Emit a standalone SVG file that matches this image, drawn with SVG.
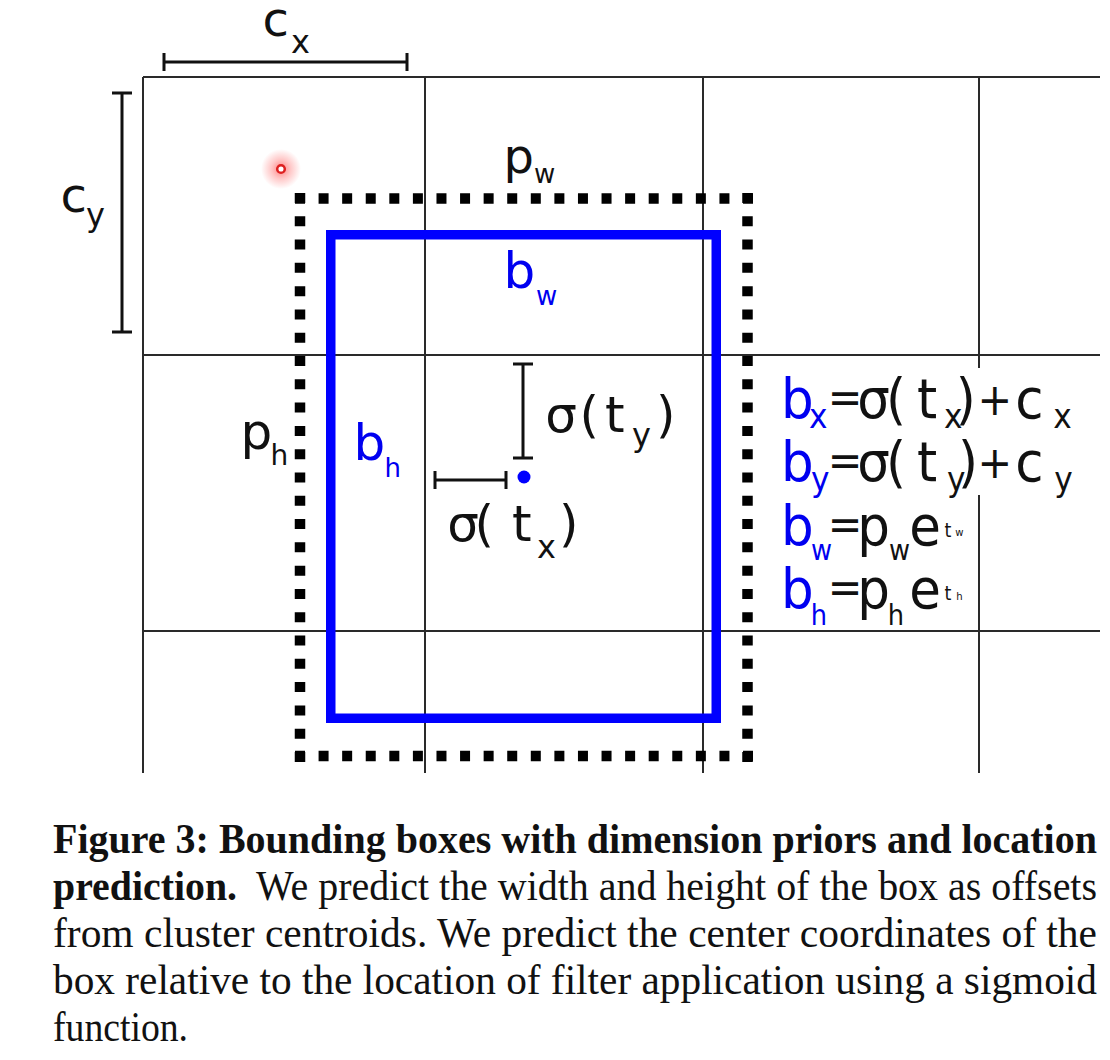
<svg xmlns="http://www.w3.org/2000/svg" width="1110" height="1060" viewBox="0 0 1110 1060">
<style>
.grid{stroke:#2a2a2a;stroke-width:2;fill:none}
.brk{stroke:#111;stroke-width:3;fill:none}
.dot{stroke:#000;stroke-width:10.5;fill:none}
.lbl{font-family:"DejaVu Sans","Noto Sans",sans-serif;fill:#111}
.blue{fill:#0000f0}
.cap{font-family:"Liberation Serif","Times New Roman",serif;fill:#111;font-size:42px}
.b{font-weight:bold}
</style>
<defs>
<radialGradient id="glow"><stop offset="0" stop-color="#ff2a2a" stop-opacity="0.6"/><stop offset="0.5" stop-color="#ff4040" stop-opacity="0.28"/><stop offset="1" stop-color="#ff4040" stop-opacity="0"/></radialGradient>
</defs>
<rect width="1110" height="1060" fill="#fff"/>
<g id="grid">
<line class="grid" x1="143" y1="77" x2="1100" y2="77"/>
<line class="grid" x1="143" y1="355" x2="1100" y2="355"/>
<line class="grid" x1="143" y1="631" x2="1100" y2="631"/>
<line class="grid" x1="143" y1="77" x2="143" y2="773"/>
<line class="grid" x1="425" y1="77" x2="425" y2="773"/>
<line class="grid" x1="703" y1="77" x2="703" y2="773"/>
<line class="grid" x1="979" y1="77" x2="979" y2="773"/>
</g>
<g id="cx">
<path class="brk" d="M164 62H407M164 53V71M407 53V71"/>
<text class="lbl" font-size="48" x="262.4" y="36">c<tspan font-size="32" x="291" y="53">x</tspan></text>
</g>
<g id="cy">
<path class="brk" d="M122 93V332M112 93H132M112 332H132"/>
<text class="lbl" font-size="48" x="60.4" y="212">c<tspan font-size="32" x="86" y="226">y</tspan></text>
</g>
<g id="red-dot">
<circle cx="281" cy="169" r="20" fill="url(#glow)"/>
<circle cx="281" cy="169" r="3.8" fill="#fff" stroke="#dd2020" stroke-width="2.5"/>
</g>
<g id="prior-box">
<line class="dot" x1="295" y1="198.5" x2="753" y2="198.5" stroke-dasharray="10 13.58"/>
<line class="dot" x1="295" y1="756" x2="753" y2="756" stroke-dasharray="10 13.58"/>
<line class="dot" x1="300" y1="193" x2="300" y2="762" stroke-dasharray="10 13.29"/>
<line class="dot" x1="747.5" y1="193" x2="747.5" y2="762" stroke-dasharray="10 13.29"/>
<text class="lbl" font-size="48" x="503.6" y="173">p<tspan font-size="26" x="534" y="183">w</tspan></text>
<text class="lbl" font-size="50" x="240.5" y="449">p<tspan font-size="28" x="270.5" y="465">h</tspan></text>
</g>
<g id="pred-box">
<rect x="330.75" y="234.75" width="385.5" height="483.5" fill="none" stroke="#0000ff" stroke-width="9.5"/>
<text class="lbl blue" font-size="50" x="503.5" y="288">b<tspan font-size="26" x="536" y="305">w</tspan></text>
<text class="lbl blue" font-size="50" x="353.5" y="460">b<tspan font-size="26" x="384.6" y="477">h</tspan></text>
</g>
<g id="center">
<path class="brk" d="M523 364V458M513 364H533M513 458H533"/>
<path class="brk" d="M435 480H506M435 471V489M506 471V489"/>
<circle cx="524" cy="477" r="6.5" fill="#0000ff"/>
<text class="lbl" font-size="50" y="432"><tspan x="545.2">σ</tspan><tspan x="579.6">(</tspan><tspan x="605">t</tspan><tspan font-size="32" x="632" y="445.5">y</tspan><tspan x="656" y="432">)</tspan></text>
<text class="lbl" font-size="50" y="541"><tspan x="447.2">σ</tspan><tspan x="474.6">(</tspan><tspan x="512">t</tspan><tspan font-size="32" x="537" y="558">x</tspan><tspan x="559" y="541">)</tspan></text>
</g>
<g id="equations">
<rect x="778" y="368" width="305" height="127" fill="#fff"/>
<text class="lbl" font-size="56" transform="translate(781,418) scale(0.92,1)"><tspan class="blue" x="0" y="0">b</tspan><tspan class="blue" font-size="34" x="30.4" y="10">x</tspan><tspan font-size="45" x="50.7" y="-5">=</tspan><tspan x="82.8" y="0">σ</tspan><tspan x="114">(</tspan><tspan x="147.8">t</tspan><tspan font-size="34" x="177.2" y="10">x</tspan><tspan x="190" y="0">)</tspan><tspan font-size="45" x="213.7" y="-3">+</tspan><tspan x="254.6" y="0">c</tspan><tspan font-size="34" x="296" y="10">x</tspan></text>
<text class="lbl" font-size="56" transform="translate(781,481) scale(0.92,1)"><tspan class="blue" x="0" y="0">b</tspan><tspan class="blue" font-size="34" x="32.6" y="10">y</tspan><tspan font-size="45" x="50.7" y="-5">=</tspan><tspan x="82.8" y="0">σ</tspan><tspan x="114">(</tspan><tspan x="147.8">t</tspan><tspan font-size="34" x="180.4" y="10">y</tspan><tspan x="192.3" y="0">)</tspan><tspan font-size="45" x="213.7" y="-3">+</tspan><tspan x="254.6" y="0">c</tspan><tspan font-size="34" x="297" y="10">y</tspan></text>
<text class="lbl" font-size="56" transform="translate(781,545) scale(0.92,1)"><tspan class="blue" x="0" y="0">b</tspan><tspan class="blue" font-size="28" x="32.6" y="15">w</tspan><tspan font-size="45" x="50.7" y="-5">=</tspan><tspan x="82.9" y="0">p</tspan><tspan font-size="28" x="117.4" y="15">w</tspan><tspan x="139.3" y="0">e</tspan><tspan font-size="19" x="177.8" y="-8">t</tspan><tspan font-size="11" x="189.5" y="-9">w</tspan></text>
<text class="lbl" font-size="56" transform="translate(781,608) scale(0.92,1)"><tspan class="blue" x="0" y="0">b</tspan><tspan class="blue" font-size="28" x="32.3" y="17">h</tspan><tspan font-size="45" x="50.7" y="-5">=</tspan><tspan x="82.9" y="0">p</tspan><tspan font-size="28" x="116" y="17">h</tspan><tspan x="139.3" y="0">e</tspan><tspan font-size="19" x="177.8" y="-8">t</tspan><tspan font-size="11" x="190.5" y="-8">h</tspan></text>
</g>
<g id="caption">
<text class="cap b" x="53" y="853" textLength="1044" lengthAdjust="spacingAndGlyphs">Figure 3: Bounding boxes with dimension priors and location</text>
<text class="cap b" x="53" y="900" textLength="184" lengthAdjust="spacingAndGlyphs">prediction.</text>
<text class="cap" x="256" y="900" textLength="841" lengthAdjust="spacingAndGlyphs">We predict the width and height of the box as offsets</text>
<text class="cap" x="53" y="947" textLength="1044" lengthAdjust="spacingAndGlyphs">from cluster centroids.  We predict the center coordinates of the</text>
<text class="cap" x="53" y="994" textLength="1044" lengthAdjust="spacingAndGlyphs">box relative to the location of filter application using a sigmoid</text>
<text class="cap" x="53" y="1041" textLength="135" lengthAdjust="spacingAndGlyphs">function.</text>
</g>
</svg>
